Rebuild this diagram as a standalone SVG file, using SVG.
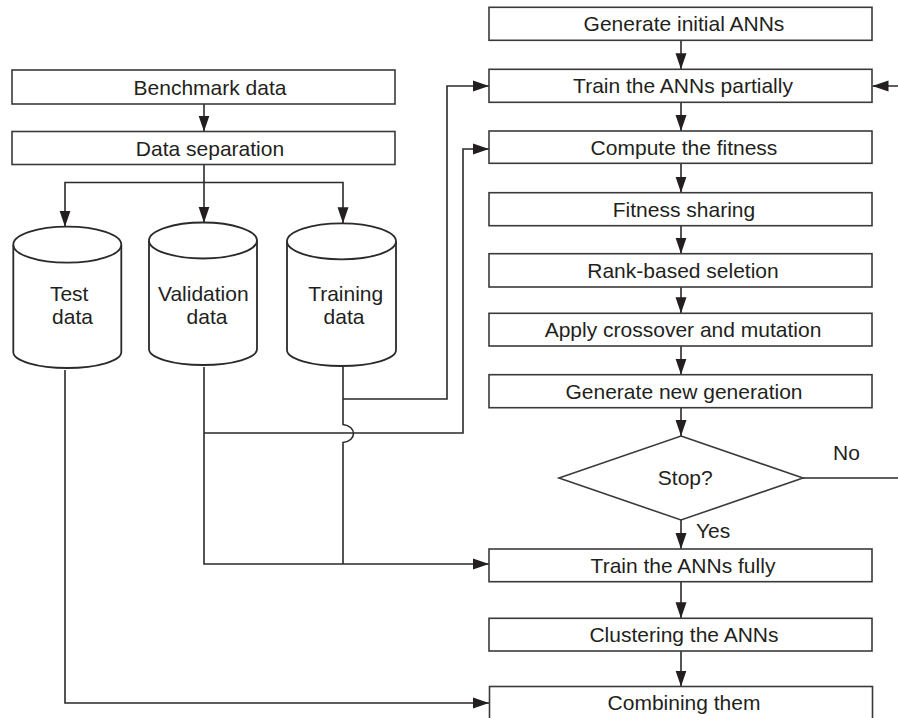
<svg xmlns="http://www.w3.org/2000/svg" width="898" height="718" viewBox="0 0 898 718">
  <style>
    .box { fill: #ffffff; stroke: #3a3a3a; stroke-width: 1.6; }
    .cyl { fill: #ffffff; stroke: #2a2a2a; stroke-width: 1.8; }
    .lbl { font-family: "Liberation Sans", Arial, sans-serif; font-size: 21px; fill: #231f20; text-anchor: middle; }
    .lbl-l { font-family: "Liberation Sans", Arial, sans-serif; font-size: 21px; fill: #231f20; text-anchor: start; }
    .wire { fill: none; stroke: #2a2a2a; stroke-width: 1.6; }
    .arr { marker-end: url(#head); }
  </style>
  <defs>
    <marker id="head" markerUnits="userSpaceOnUse" markerWidth="16" markerHeight="12" viewBox="0 0 16 12" refX="16" refY="6" orient="auto">
      <path d="M0,0.5 L16,6 L0,11.5 Z" fill="#231f20"/>
    </marker>
  </defs>

  <rect width="898" height="718" fill="#ffffff"/>

  <!-- connectors -->
  <g id="connectors">
    <!-- data preparation -->
    <path class="wire arr" d="M204,104 V131.5"/>
    <path class="wire arr" d="M204,164.5 V222.7"/>
    <path class="wire arr" d="M204,182.5 H65 V226.7"/>
    <path class="wire arr" d="M204,182.5 H343 V223.3"/>
    <!-- test data to the combiner -->
    <path class="wire arr" d="M65,370 V703 H489"/>
    <!-- validation data -->
    <path class="wire arr" d="M204,367 V564 H489"/>
    <path class="wire arr" d="M204,433 H463 V149 H489"/>
    <!-- training data, hopping over the validation line -->
    <path class="wire" d="M343,367 V424.5 C357,426 357,441 343,442.5 V564"/>
    <path class="wire arr" d="M343,399 H447 V86 H489"/>
    <!-- evolutionary loop -->
    <path class="wire arr" d="M681,40.3 V69.3"/>
    <path class="wire arr" d="M681,102.3 V131"/>
    <path class="wire arr" d="M681,163.3 V192.7"/>
    <path class="wire arr" d="M681,225.7 V253.7"/>
    <path class="wire arr" d="M681,287 V313.3"/>
    <path class="wire arr" d="M681,346 V374.7"/>
    <path class="wire arr" d="M681,407.7 V436"/>
    <path class="wire arr" d="M681,520 V549"/>
    <path class="wire arr" d="M681,581.7 V618.3"/>
    <path class="wire arr" d="M681,651 V686.5"/>
    <path class="wire arr" d="M803,478 H902 V86 H872.5"/>
  </g>

  <!-- left column -->
  <g id="benchmark">
    <rect class="box" x="12" y="70" width="383" height="34"/>
    <text class="lbl" x="210" y="94.5">Benchmark data</text>
  </g>
  <g id="separation">
    <rect class="box" x="12" y="131.5" width="383" height="33"/>
    <text class="lbl" x="210" y="155.5">Data separation</text>
  </g>

  <g id="test-data">
    <path class="cyl" d="M13.3,245 V352 A54,16 0 0 0 121.3,352 V245"/>
    <ellipse class="cyl" cx="67.3" cy="244.7" rx="54" ry="18"/>
    <text class="lbl" x="69.2" y="301">Test</text>
    <text class="lbl" x="72.5" y="324">data</text>
  </g>
  <g id="validation-data">
    <path class="cyl" d="M149,241 V349 A54,16 0 0 0 257,349 V241"/>
    <ellipse class="cyl" cx="203" cy="240.5" rx="54" ry="18"/>
    <text class="lbl" x="203.3" y="301">Validation</text>
    <text class="lbl" x="207" y="324">data</text>
  </g>
  <g id="training-data">
    <path class="cyl" d="M287,241.5 V350 A54.5,16 0 0 0 396,350 V241.5"/>
    <ellipse class="cyl" cx="341.5" cy="241.3" rx="54.5" ry="18"/>
    <text class="lbl" x="345.7" y="301">Training</text>
    <text class="lbl" x="344" y="324">data</text>
  </g>

  <!-- right column -->
  <g id="init">
    <rect class="box" x="489" y="7.3" width="383" height="33"/>
    <text class="lbl" x="684" y="31">Generate initial ANNs</text>
  </g>
  <g id="train-partial">
    <rect class="box" x="489" y="69.3" width="383" height="33"/>
    <text class="lbl" x="683" y="93">Train the ANNs partially</text>
  </g>
  <g id="fitness">
    <rect class="box" x="489" y="131" width="383" height="32.3"/>
    <text class="lbl" x="684" y="154.5">Compute the fitness</text>
  </g>
  <g id="sharing">
    <rect class="box" x="489" y="192.7" width="383" height="33"/>
    <text class="lbl" x="684" y="216.5">Fitness sharing</text>
  </g>
  <g id="selection">
    <rect class="box" x="489" y="253.7" width="383" height="33.3"/>
    <text class="lbl" x="683" y="277.5">Rank-based seletion</text>
  </g>
  <g id="crossover">
    <rect class="box" x="489" y="313.3" width="383" height="32.7"/>
    <text class="lbl" x="683" y="337">Apply crossover and mutation</text>
  </g>
  <g id="new-generation">
    <rect class="box" x="489" y="374.7" width="383" height="33"/>
    <text class="lbl" x="684" y="398.5">Generate new generation</text>
  </g>
  <g id="stop">
    <polygon class="box" points="681,436 803,478 681,520 559,478"/>
    <text class="lbl" x="685.3" y="485">Stop?</text>
    <text class="lbl-l" x="833" y="460">No</text>
    <text class="lbl-l" x="696" y="538">Yes</text>
  </g>
  <g id="train-full">
    <rect class="box" x="489" y="549" width="383" height="32.7"/>
    <text class="lbl" x="683" y="573">Train the ANNs fully</text>
  </g>
  <g id="clustering">
    <rect class="box" x="489" y="618.3" width="383" height="32.7"/>
    <text class="lbl" x="684" y="642">Clustering the ANNs</text>
  </g>
  <g id="combine">
    <rect class="box" x="489.5" y="686.5" width="383" height="34"/>
    <text class="lbl" x="684" y="710">Combining them</text>
  </g>
</svg>
